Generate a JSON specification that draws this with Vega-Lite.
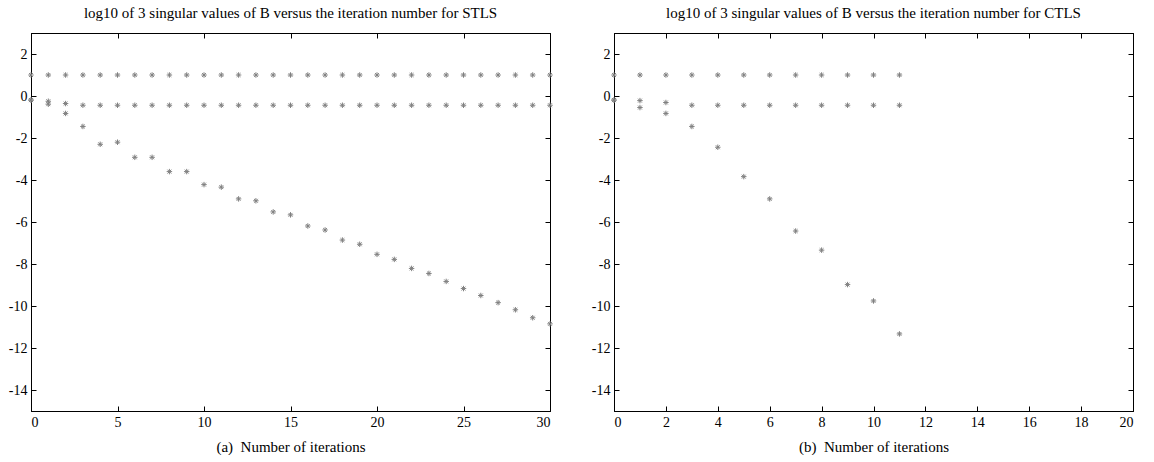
{
  "$schema": "https://vega.github.io/schema/vega-lite/v6.json",
  "padding": {"left": 7, "top": 5, "right": 0, "bottom": 0},
  "background": "white",
  "spacing": 34,
  "config": {
    "font": "Liberation Serif",
    "view": {"stroke": "black", "strokeWidth": 1},
    "axis": {
      "grid": false,
      "labelFont": "Liberation Serif",
      "labelFontSize": 14,
      "labelColor": "black",
      "titleFont": "Liberation Serif",
      "titleFontSize": 15,
      "titleFontWeight": "normal",
      "titleColor": "black",
      "domainColor": "black",
      "tickColor": "black",
      "tickSize": -5,
      "labelPadding": 9
    },
    "title": {"font": "Liberation Serif", "fontSize": 15, "fontWeight": "normal", "color": "black", "offset": 12}
  },
  "datasets": {
    "stls": [
      {"iter": 0, "series": "s1", "value": 1.0}, {"iter": 1, "series": "s1", "value": 1.0}, {"iter": 2, "series": "s1", "value": 1.0}, {"iter": 3, "series": "s1", "value": 1.0}, {"iter": 4, "series": "s1", "value": 1.0}, {"iter": 5, "series": "s1", "value": 1.0}, {"iter": 6, "series": "s1", "value": 1.0}, {"iter": 7, "series": "s1", "value": 1.0}, {"iter": 8, "series": "s1", "value": 1.0}, {"iter": 9, "series": "s1", "value": 1.0}, {"iter": 10, "series": "s1", "value": 1.0}, {"iter": 11, "series": "s1", "value": 1.0}, {"iter": 12, "series": "s1", "value": 1.0}, {"iter": 13, "series": "s1", "value": 1.0}, {"iter": 14, "series": "s1", "value": 1.0}, {"iter": 15, "series": "s1", "value": 1.0}, {"iter": 16, "series": "s1", "value": 1.0}, {"iter": 17, "series": "s1", "value": 1.0}, {"iter": 18, "series": "s1", "value": 1.0}, {"iter": 19, "series": "s1", "value": 1.0}, {"iter": 20, "series": "s1", "value": 1.0}, {"iter": 21, "series": "s1", "value": 1.0}, {"iter": 22, "series": "s1", "value": 1.0}, {"iter": 23, "series": "s1", "value": 1.0}, {"iter": 24, "series": "s1", "value": 1.0}, {"iter": 25, "series": "s1", "value": 1.0}, {"iter": 26, "series": "s1", "value": 1.0}, {"iter": 27, "series": "s1", "value": 1.0}, {"iter": 28, "series": "s1", "value": 1.0}, {"iter": 29, "series": "s1", "value": 1.0}, {"iter": 30, "series": "s1", "value": 1.0},
      {"iter": 0, "series": "s2", "value": -0.19}, {"iter": 1, "series": "s2", "value": -0.25}, {"iter": 2, "series": "s2", "value": -0.36}, {"iter": 3, "series": "s2", "value": -0.44}, {"iter": 4, "series": "s2", "value": -0.44}, {"iter": 5, "series": "s2", "value": -0.44}, {"iter": 6, "series": "s2", "value": -0.44}, {"iter": 7, "series": "s2", "value": -0.44}, {"iter": 8, "series": "s2", "value": -0.44}, {"iter": 9, "series": "s2", "value": -0.44}, {"iter": 10, "series": "s2", "value": -0.44}, {"iter": 11, "series": "s2", "value": -0.44}, {"iter": 12, "series": "s2", "value": -0.44}, {"iter": 13, "series": "s2", "value": -0.44}, {"iter": 14, "series": "s2", "value": -0.44}, {"iter": 15, "series": "s2", "value": -0.44}, {"iter": 16, "series": "s2", "value": -0.44}, {"iter": 17, "series": "s2", "value": -0.44}, {"iter": 18, "series": "s2", "value": -0.44}, {"iter": 19, "series": "s2", "value": -0.44}, {"iter": 20, "series": "s2", "value": -0.44}, {"iter": 21, "series": "s2", "value": -0.44}, {"iter": 22, "series": "s2", "value": -0.44}, {"iter": 23, "series": "s2", "value": -0.44}, {"iter": 24, "series": "s2", "value": -0.44}, {"iter": 25, "series": "s2", "value": -0.44}, {"iter": 26, "series": "s2", "value": -0.44}, {"iter": 27, "series": "s2", "value": -0.44}, {"iter": 28, "series": "s2", "value": -0.44}, {"iter": 29, "series": "s2", "value": -0.44}, {"iter": 30, "series": "s2", "value": -0.44},
      {"iter": 0, "series": "s3", "value": -0.2}, {"iter": 1, "series": "s3", "value": -0.39}, {"iter": 2, "series": "s3", "value": -0.83}, {"iter": 3, "series": "s3", "value": -1.45}, {"iter": 4, "series": "s3", "value": -2.3}, {"iter": 5, "series": "s3", "value": -2.2}, {"iter": 6, "series": "s3", "value": -2.92}, {"iter": 7, "series": "s3", "value": -2.92}, {"iter": 8, "series": "s3", "value": -3.6}, {"iter": 9, "series": "s3", "value": -3.6}, {"iter": 10, "series": "s3", "value": -4.22}, {"iter": 11, "series": "s3", "value": -4.34}, {"iter": 12, "series": "s3", "value": -4.9}, {"iter": 13, "series": "s3", "value": -4.99}, {"iter": 14, "series": "s3", "value": -5.52}, {"iter": 15, "series": "s3", "value": -5.66}, {"iter": 16, "series": "s3", "value": -6.19}, {"iter": 17, "series": "s3", "value": -6.38}, {"iter": 18, "series": "s3", "value": -6.86}, {"iter": 19, "series": "s3", "value": -7.06}, {"iter": 20, "series": "s3", "value": -7.54}, {"iter": 21, "series": "s3", "value": -7.78}, {"iter": 22, "series": "s3", "value": -8.21}, {"iter": 23, "series": "s3", "value": -8.45}, {"iter": 24, "series": "s3", "value": -8.83}, {"iter": 25, "series": "s3", "value": -9.17}, {"iter": 26, "series": "s3", "value": -9.5}, {"iter": 27, "series": "s3", "value": -9.84}, {"iter": 28, "series": "s3", "value": -10.18}, {"iter": 29, "series": "s3", "value": -10.56}, {"iter": 30, "series": "s3", "value": -10.85}
    ],
    "ctls": [
      {"iter": 0, "series": "s1", "value": 1.0}, {"iter": 1, "series": "s1", "value": 1.0}, {"iter": 2, "series": "s1", "value": 1.0}, {"iter": 3, "series": "s1", "value": 1.0}, {"iter": 4, "series": "s1", "value": 1.0}, {"iter": 5, "series": "s1", "value": 1.0}, {"iter": 6, "series": "s1", "value": 1.0}, {"iter": 7, "series": "s1", "value": 1.0}, {"iter": 8, "series": "s1", "value": 1.0}, {"iter": 9, "series": "s1", "value": 1.0}, {"iter": 10, "series": "s1", "value": 1.0}, {"iter": 11, "series": "s1", "value": 1.0},
      {"iter": 0, "series": "s2", "value": -0.19}, {"iter": 1, "series": "s2", "value": -0.22}, {"iter": 2, "series": "s2", "value": -0.31}, {"iter": 3, "series": "s2", "value": -0.44}, {"iter": 4, "series": "s2", "value": -0.44}, {"iter": 5, "series": "s2", "value": -0.44}, {"iter": 6, "series": "s2", "value": -0.44}, {"iter": 7, "series": "s2", "value": -0.44}, {"iter": 8, "series": "s2", "value": -0.44}, {"iter": 9, "series": "s2", "value": -0.44}, {"iter": 10, "series": "s2", "value": -0.44}, {"iter": 11, "series": "s2", "value": -0.44},
      {"iter": 0, "series": "s3", "value": -0.2}, {"iter": 1, "series": "s3", "value": -0.55}, {"iter": 2, "series": "s3", "value": -0.83}, {"iter": 3, "series": "s3", "value": -1.45}, {"iter": 4, "series": "s3", "value": -2.44}, {"iter": 5, "series": "s3", "value": -3.84}, {"iter": 6, "series": "s3", "value": -4.9}, {"iter": 7, "series": "s3", "value": -6.43}, {"iter": 8, "series": "s3", "value": -7.34}, {"iter": 9, "series": "s3", "value": -8.98}, {"iter": 10, "series": "s3", "value": -9.76}, {"iter": 11, "series": "s3", "value": -11.33}
    ]
  },
  "hconcat": [
    {
      "width": 519,
      "height": 378,
      "title": "log10 of 3 singular values of B versus the iteration number for STLS",
      "data": {"name": "stls"},
      "layer": [
        {
          "mark": {"type": "point", "shape": "M-1,0L1,0M0,-1L0,1M-0.7,-0.7L0.7,0.7M-0.7,0.7L0.7,-0.7", "filled": false, "stroke": "#808080", "strokeWidth": 1, "size": 30, "opacity": 1, "clip": false},
          "encoding": {
            "x": {"field": "iter", "type": "quantitative", "scale": {"domain": [0, 30], "nice": false, "zero": false}, "axis": {"orient": "bottom", "values": [0, 5, 10, 15, 20, 25, 30], "labelFont": "Liberation Serif", "titleFont": "Liberation Serif", "title": "(a)\u00a0 Number of iterations", "titlePadding": 10}},
            "y": {"field": "value", "type": "quantitative", "scale": {"domain": [-15, 3], "nice": false, "zero": false}, "axis": {"orient": "left", "values": [-14, -12, -10, -8, -6, -4, -2, 0, 2], "labelFont": "Liberation Serif", "labelExpr": "datum.value < 0 ? '-' + abs(datum.value) : '' + datum.value", "title": null}}
          }
        },
        {
          "mark": {"type": "point", "opacity": 0},
          "encoding": {
            "x": {"field": "iter", "type": "quantitative", "scale": {"domain": [0, 30], "nice": false, "zero": false}, "axis": {"orient": "top", "values": [0, 5, 10, 15, 20, 25, 30], "labels": false, "title": null}},
            "y": {"field": "value", "type": "quantitative", "scale": {"domain": [-15, 3], "nice": false, "zero": false}, "axis": {"orient": "right", "values": [-14, -12, -10, -8, -6, -4, -2, 0, 2], "labels": false, "title": null}}
          }
        }
      ],
      "resolve": {"axis": {"x": "independent", "y": "independent"}}
    },
    {
      "width": 519,
      "height": 378,
      "title": "log10 of 3 singular values of B versus the iteration number for CTLS",
      "data": {"name": "ctls"},
      "layer": [
        {
          "mark": {"type": "point", "shape": "M-1,0L1,0M0,-1L0,1M-0.7,-0.7L0.7,0.7M-0.7,0.7L0.7,-0.7", "filled": false, "stroke": "#808080", "strokeWidth": 1, "size": 30, "opacity": 1, "clip": false},
          "encoding": {
            "x": {"field": "iter", "type": "quantitative", "scale": {"domain": [0, 20], "nice": false, "zero": false}, "axis": {"orient": "bottom", "values": [0, 2, 4, 6, 8, 10, 12, 14, 16, 18, 20], "labelFont": "Liberation Serif", "titleFont": "Liberation Serif", "title": "(b)\u00a0 Number of iterations", "titlePadding": 10}},
            "y": {"field": "value", "type": "quantitative", "scale": {"domain": [-15, 3], "nice": false, "zero": false}, "axis": {"orient": "left", "values": [-14, -12, -10, -8, -6, -4, -2, 0, 2], "labelFont": "Liberation Serif", "labelExpr": "datum.value < 0 ? '-' + abs(datum.value) : '' + datum.value", "title": null}}
          }
        },
        {
          "mark": {"type": "point", "opacity": 0},
          "encoding": {
            "x": {"field": "iter", "type": "quantitative", "scale": {"domain": [0, 20], "nice": false, "zero": false}, "axis": {"orient": "top", "values": [0, 2, 4, 6, 8, 10, 12, 14, 16, 18, 20], "labels": false, "title": null}},
            "y": {"field": "value", "type": "quantitative", "scale": {"domain": [-15, 3], "nice": false, "zero": false}, "axis": {"orient": "right", "values": [-14, -12, -10, -8, -6, -4, -2, 0, 2], "labels": false, "title": null}}
          }
        }
      ],
      "resolve": {"axis": {"x": "independent", "y": "independent"}}
    }
  ]
}
